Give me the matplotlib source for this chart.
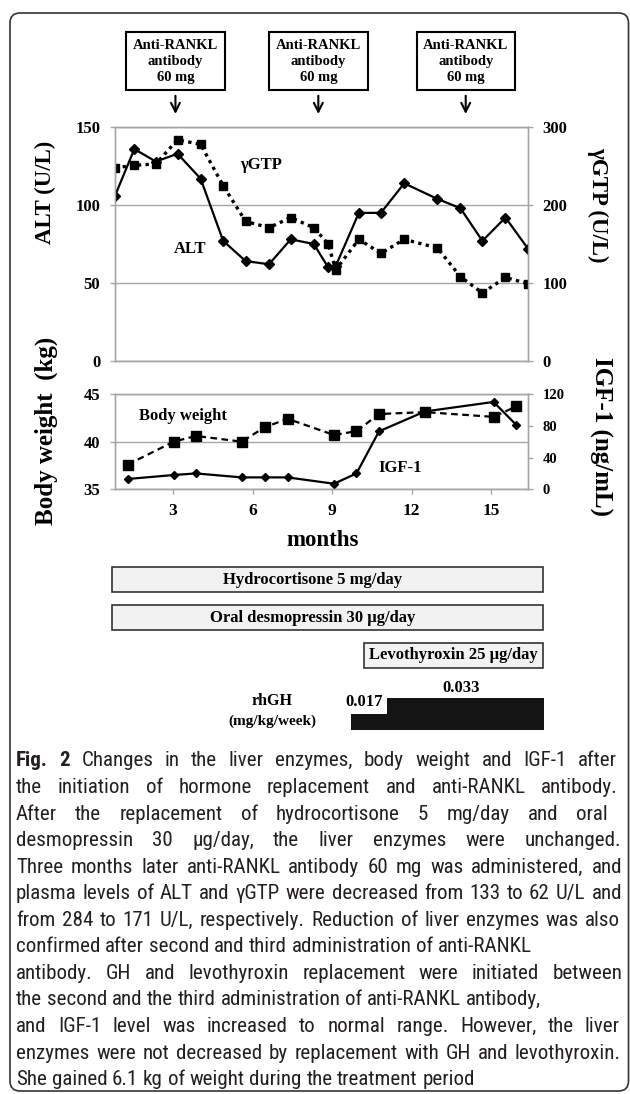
import matplotlib
matplotlib.use('Agg')
import matplotlib.pyplot as plt
from matplotlib import font_manager
from matplotlib.patches import FancyBboxPatch, Rectangle
from matplotlib.transforms import IdentityTransform, blended_transform_factory

# liver enzymes
liver_months = [0.81, 1.54, 2.35, 3.17, 4.04, 4.89, 5.74, 6.62, 7.44, 8.31,
                8.85, 9.14, 10.01, 10.84, 11.72, 12.97, 13.84, 14.67, 15.54, 16.39]
alt = [106, 136, 128, 133, 117, 77, 64, 62, 78, 75,
       60, 61, 95, 95, 114, 104, 98, 77, 92, 72]
ggtp = [248, 251, 253, 284, 278, 225, 179, 171, 184, 171,
        150, 117, 156, 138, 156, 145, 108, 87, 107, 99]

# body weight / IGF-1
bw_months = [1.29, 3.03, 3.86, 5.59, 6.45, 7.32, 9.07, 9.92, 10.77, 12.50, 15.09, 15.95]
body_weight = [37.6, 40.0, 40.6, 40.0, 41.5, 42.4, 40.7, 41.1, 42.9, 43.1, 42.6, 43.7]
igf1 = [13, 18, 20, 15, 15, 15, 7, 20, 73, 98, 110, 81]

rankl_months = [3.09, 8.48, 14.04]
rankl_text = 'Anti-RANKL\nantibody\n60 mg'

treat_names = ['Hydrocortisone 5 mg/day', 'Oral desmopressin 30 \u00b5g/day', 'Levothyroxin 25 \u00b5g/day']
treat_start = [0.68, 0.68, 10.2]
treat_end = [16.95, 16.95, 16.95]

gh_dose = [0.017, 0.033]
gh_start = [9.7, 11.06]
gh_end = [11.06, 16.98]

caption = [
    'Fig. 2 Changes in the liver enzymes, body weight and IGF-1 after',
    'the initiation of hormone replacement and anti-RANKL antibody.',
    'After the replacement of hydrocortisone 5 mg/day and oral',
    'desmopressin 30 \u00b5g/day, the liver enzymes were unchanged.',
    'Three months later anti-RANKL antibody 60 mg was administered, and',
    'plasma levels of ALT and \u03b3GTP were decreased from 133 to 62 U/L and',
    'from 284 to 171 U/L, respectively. Reduction of liver enzymes was also',
    'confirmed after second and third administration of anti-RANKL',
    'antibody. GH and levothyroxin replacement were initiated between',
    'the second and the third administration of anti-RANKL antibody,',
    'and IGF-1 level was increased to normal range. However, the liver',
    'enzymes were not decreased by replacement with GH and levothyroxin.',
    'She gained 6.1 kg of weight during the treatment period',
]
line_end = [617, 618, 608, 621, 622, 622, 620, 522, 622, 538, 620, 621, 474]

W, H = 630, 1094
def fx(px):
    return px / W
def fy(py):
    return 1 - py / H

plt.rcParams['font.family'] = ['Liberation Serif', 'DejaVu Serif']
plt.rcParams['font.weight'] = 'bold'
grey = '#a6a6a6'

fig = plt.figure(figsize=(6.3, 10.94), dpi=100)
L, R = 115, 528
xlim = (0.81, 16.39)
aw = fx(R) - fx(L)

# ---- top chart
ax1 = fig.add_axes([fx(L), fy(360.7), aw, (360.7 - 127.3) / H])
ax2 = ax1.twinx()
ax1.plot(liver_months, alt, color='k', lw=1.6, marker='D', ms=5, zorder=4)
ax2.plot(liver_months, ggtp, color='k', lw=2.4, ls=(0, (1, 1.3)), marker='s', ms=5.5)
ax1.set_ylim(0, 150)
ax2.set_ylim(0, 300)
ax1.set_yticks([0, 50, 100, 150])
ax2.set_yticks([0, 100, 200, 300])
ax1.set_xlim(xlim)
ax1.set_xticks([])
ax1.grid(axis='y', color=grey, lw=1)
ax1.text(3.66, 71.6, 'ALT', ha='center', va='center', fontsize=12)
ax1.text(6.34, 125.8, '\u03b3GTP', ha='center', va='center', fontsize=12)

# ---- bottom chart
ax3 = fig.add_axes([fx(L), fy(489.3), aw, (489.3 - 394) / H])
ax4 = ax3.twinx()
ax3.plot(bw_months, body_weight, color='k', lw=1.6, ls=(0, (3, 2)), marker='s', ms=6.5, zorder=4)
ax4.plot(bw_months, igf1, color='k', lw=1.6, marker='D', ms=4.5)
ax3.set_ylim(35, 45)
ax4.set_ylim(0, 120)
ax3.set_yticks([35, 40, 45])
ax4.set_yticks([0, 40, 80, 120])
ax3.set_xlim(xlim)
ax3.set_xticks([3, 6, 9, 12, 15])
ax3.grid(axis='y', color=grey, lw=1)
ax3.text(3.39, 42.69, 'Body weight', ha='center', va='center', fontsize=12)
ax3.text(11.55, 37.2, 'IGF-1', ha='center', va='center', fontsize=12)

for ax in (ax1, ax2, ax3, ax4):
    ax.set_facecolor('none')
    for s in ax.spines.values():
        s.set_color(grey)
        s.set_linewidth(1)
    ax.tick_params(direction='out', length=3.6, width=1, color=grey, pad=7, labelsize=12)
ax4.tick_params(labelsize=10.5)
ax3.tick_params(axis='x', pad=6, labelsize=12.5)

fig.text(fx(45), fy(192), 'ALT (U/L)', rotation=90, ha='center', va='center', fontsize=16.5)
fig.text(fx(598), fy(205), '\u03b3GTP (U/L)', rotation=-90, ha='center', va='center', fontsize=16.5)
fig.text(fx(46), fy(431), 'Body weight  (kg)', rotation=90, ha='center', va='center', fontsize=18)
fig.text(fx(601), fy(436), 'IGF-1 (ng/mL)', rotation=-90, ha='center', va='center', fontsize=18)
fig.text(fx(323), fy(540), 'months', ha='center', va='center', fontsize=16.5)

# anti-RANKL antibody boxes and arrows
tr = blended_transform_factory(ax1.transData, ax1.transAxes)
for m in rankl_months:
    ax1.annotate('', xy=(m, 1.045), xytext=(m, 1.147), xycoords=tr, textcoords=tr,
                 arrowprops=dict(arrowstyle='->', lw=1.5, color='k', mutation_scale=16),
                 annotation_clip=False)
    ax1.text(m, 1.283, rankl_text, transform=tr, ha='center', va='center', fontsize=10.5,
             linespacing=1.3, clip_on=False,
             bbox=dict(boxstyle='square,pad=0.45', fc='white', ec='k', lw=1.5))

# ---- treatment bars
ax5 = fig.add_axes([fx(L), fy(735), aw, (735 - 560) / H])
ax5.set_xlim(xlim)
ax5.set_ylim(735, 560)
ax5.axis('off')
row_top = [567.3, 605, 642.7]
text_x = [8.27, 8.27, None]
for i, name in enumerate(treat_names):
    ax5.add_patch(Rectangle((treat_start[i], row_top[i]), treat_end[i] - treat_start[i], 25,
                            fc='#f2f2f2', ec='#333333', lw=1.2, clip_on=False))
    tx = text_x[i] if text_x[i] is not None else (treat_start[i] + treat_end[i]) / 2
    ax5.text(tx, row_top[i] + 12.5, name, ha='center', va='center', fontsize=12, clip_on=False)

ax6 = fig.add_axes([fx(L), fy(730), aw, (730 - 698.3) / H])
ax6.set_xlim(xlim)
ax6.set_ylim(0, 0.033)
ax6.axis('off')
ax6.bar(gh_start, gh_dose, width=[e - s for s, e in zip(gh_start, gh_end)], align='edge',
        color='#141414', clip_on=False)
ax6.annotate(f'{gh_dose[0]:.3f}', xy=(gh_start[1], gh_dose[0]), xytext=(-3, 8.5),
             textcoords='offset points', ha='right', va='center', fontsize=12)
ax6.annotate(f'{gh_dose[1]:.3f}', xy=((gh_start[1] + gh_end[1]) / 2, gh_dose[1]), xytext=(-3, 7.5),
             textcoords='offset points', ha='center', va='center', fontsize=12)
fig.text(fx(272), fy(700.7), 'rhGH', ha='center', va='center', fontsize=11.5)
fig.text(fx(272), fy(721.7), '(mg/kg/week)', ha='center', va='center', fontsize=11)

# ---- caption (justified word by word)
rend = fig.canvas.get_renderer()
cap_font = ['Lato', 'DejaVu Sans']
for cand in ['Myriad Pro', 'Roboto Condensed', 'Open Sans Condensed', 'Liberation Sans Narrow',
             'Noto Sans Display', 'Lato']:
    try:
        font_manager.findfont(font_manager.FontProperties(family=cand), fallback_to_default=False)
        cap_font = [cand, 'DejaVu Sans']
        break
    except ValueError:
        pass

def width(s, size, weight):
    t = fig.text(0, 0, s, fontsize=size, fontweight=weight, family=cap_font)
    w = t.get_window_extent(renderer=rend).width
    t.remove()
    return w

def words_of(i):
    ws = caption[i].split(' ')
    return [(w, 'bold' if (i == 0 and j < 2) else 'normal') for j, w in enumerate(ws)]

x0 = 16
sp10 = width('a a', 10, 'normal') - width('aa', 10, 'normal')
ratio = []
for i in range(len(caption)):
    ws = words_of(i)
    nat = sum(width(w, 10, wt) for w, wt in ws) + 0.7 * sp10 * (len(ws) - 1)
    ratio.append((line_end[i] - x0) / nat)
cap_size = min(10 * min(ratio), 15.5)
sp = sp10 * cap_size / 10

for i in range(len(caption)):
    ws = words_of(i)
    wid = [width(w, cap_size, wt) for w, wt in ws]
    gap = (line_end[i] - x0 - sum(wid)) / (len(ws) - 1)
    if i in (7, 9, 12):
        gap = sp
    x = x0
    yb = 766.5 + i * 26.55
    for (w, wt), ww in zip(ws, wid):
        fig.text(fx(x), fy(yb), w, fontsize=cap_size, fontweight=wt, family=cap_font,
                 color='#231f20', ha='left', va='baseline')
        x += ww + gap

# frame
fig.add_artist(FancyBboxPatch((10, 3), 618.5, 1078, boxstyle='round,pad=0,rounding_size=10',
                              transform=IdentityTransform(), fc='none', ec='#333333', lw=1.2))

fig.savefig('out.png', dpi=100)
